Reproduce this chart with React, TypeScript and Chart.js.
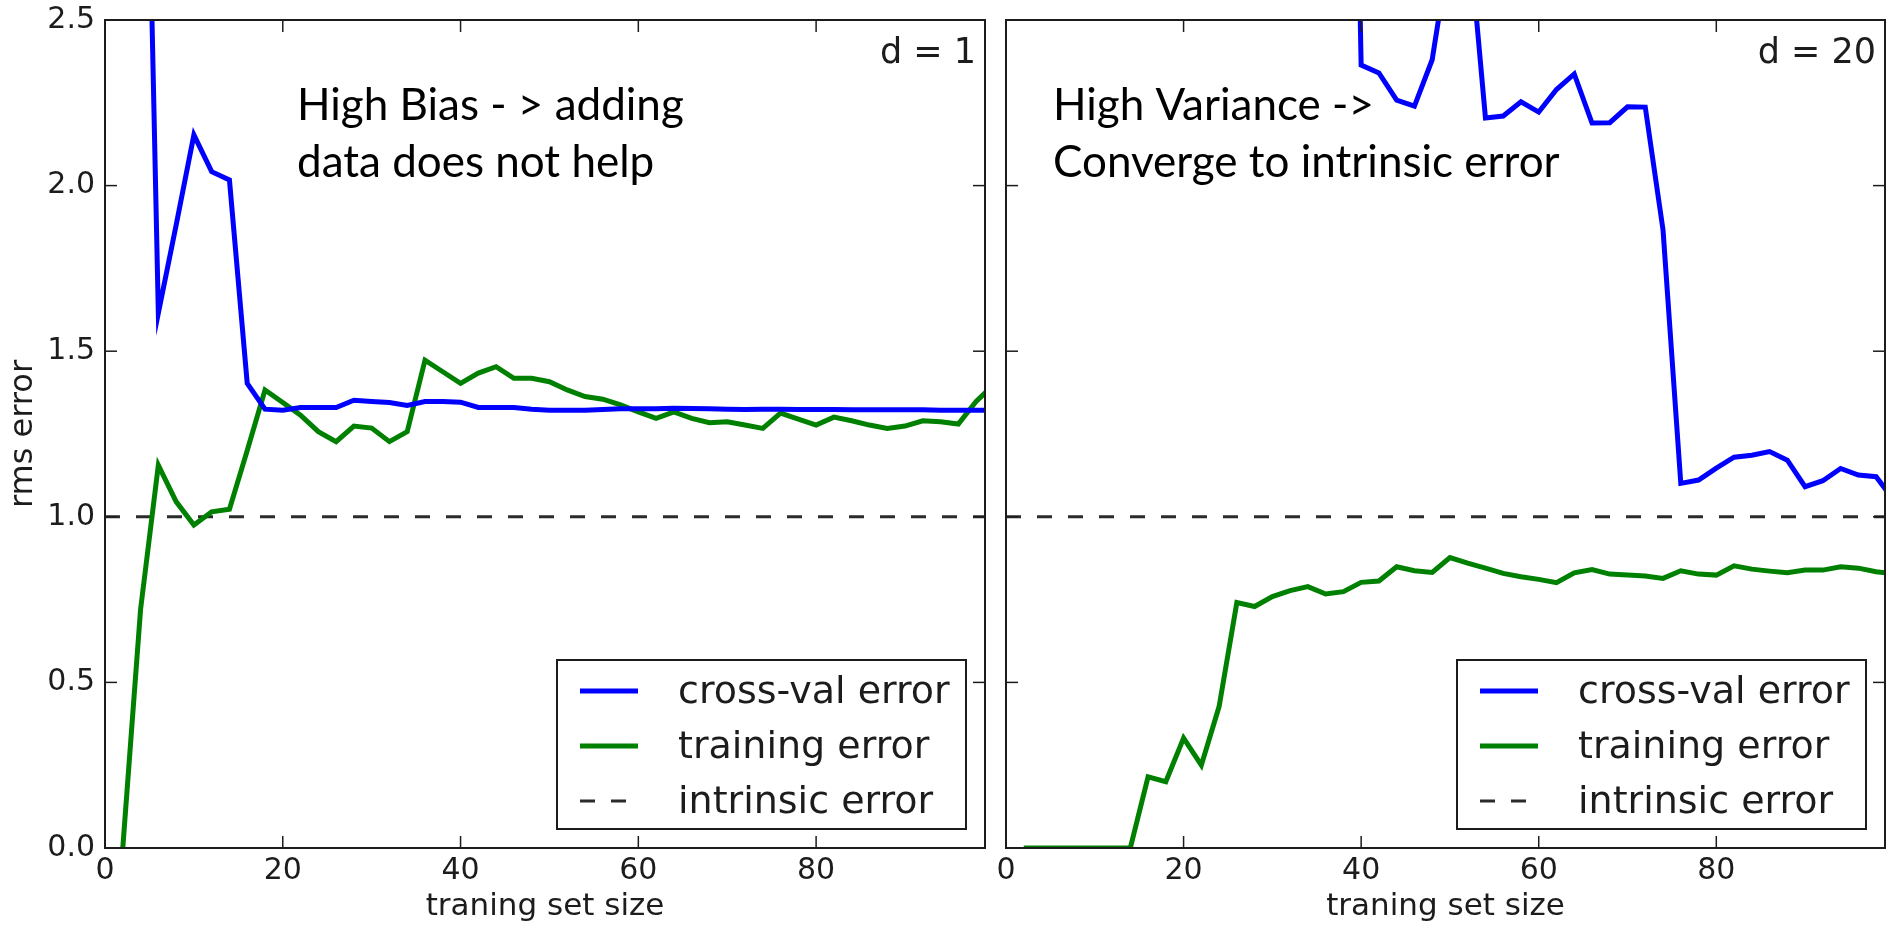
import React, { useEffect, useRef } from 'react';
import { Chart, registerables } from 'chart.js';

Chart.register(...registerables);

// ---------------- data ----------------
const trainSizes = [
  2, 4, 6, 8, 10, 12, 14, 16, 18, 20, 22, 24, 26, 28, 30, 32, 34, 36, 38, 40,
  42, 44, 46, 48, 50, 52, 54, 56, 58, 60, 62, 64, 66, 68, 70, 72, 74, 76, 78, 80,
  82, 84, 86, 88, 90, 92, 94, 96, 98, 100,
];

// d = 1 (high bias)
const d1CrossVal = [
  5.5, 4.1, 1.615, 1.88, 2.153, 2.042, 2.017, 1.403, 1.325, 1.322,
  1.33, 1.33, 1.33, 1.352, 1.348, 1.345, 1.336, 1.348, 1.348, 1.346,
  1.33, 1.33, 1.33, 1.325, 1.322, 1.322, 1.322, 1.324, 1.326, 1.326,
  1.326, 1.328, 1.327, 1.326, 1.325, 1.324, 1.325, 1.325, 1.324, 1.324,
  1.324, 1.323, 1.323, 1.323, 1.323, 1.323, 1.322, 1.322, 1.322, 1.322,
];
const d1Training = [
  0.0, 0.72, 1.156, 1.046, 0.975, 1.015, 1.023, 1.2, 1.383, 1.345,
  1.307, 1.257, 1.227, 1.274, 1.268, 1.227, 1.257, 1.473, 1.438, 1.403,
  1.434, 1.453, 1.418, 1.418, 1.408, 1.383, 1.363, 1.355, 1.338, 1.317,
  1.297, 1.317, 1.297, 1.284, 1.287, 1.277, 1.267, 1.313, 1.295, 1.277,
  1.301, 1.29, 1.277, 1.267, 1.274, 1.29, 1.287, 1.28, 1.348, 1.4,
];

// d = 20 (high variance)
const d20CrossVal = [
  9.5, 8.8, 8.2, 7.7, 7.3, 6.9, 6.6, 6.3, 6.1, 5.9,
  5.7, 5.6, 5.5, 5.4, 5.3, 5.25, 5.2, 5.15, 5.08, 2.364,
  2.34, 2.258, 2.24, 2.38, 2.72, 2.8, 2.204, 2.21, 2.253, 2.222,
  2.29, 2.337, 2.189, 2.19, 2.238, 2.237, 1.866, 1.101, 1.111, 1.147,
  1.18, 1.186, 1.197, 1.171, 1.091, 1.109, 1.146, 1.126, 1.121, 1.05,
];
const d20Training = [
  0.0, 0.0, 0.0, 0.0, 0.0, 0.0, 0.0, 0.215, 0.2, 0.332,
  0.25, 0.427, 0.741, 0.729, 0.759, 0.777, 0.789, 0.767, 0.774, 0.802,
  0.806, 0.849, 0.837, 0.832, 0.877, 0.86, 0.845, 0.829, 0.819, 0.811,
  0.801, 0.831, 0.841, 0.827, 0.824, 0.821, 0.814, 0.837, 0.827, 0.824,
  0.852, 0.842, 0.836, 0.831, 0.839, 0.839, 0.849, 0.845, 0.834, 0.828,
];

const intrinsicError = 1.0;
const xRange = [0, 99];
const yRange = [0, 2.5];
const xTickValues = [0, 20, 40, 60, 80];
const yTickValues = [0, 0.5, 1.0, 1.5, 2.0, 2.5];
const seriesLabels = ['cross-val error', 'training error', 'intrinsic error'];
const panelTags = ['d = 1', 'd = 20'];
const panelNotes = [
  ['High Bias - > adding', 'data does not help'],
  ['High Variance ->', 'Converge to intrinsic error'],
];
const xAxisTitle = 'traning set size';
const yAxisTitle = 'rms error';

// ---------------- styling ----------------
const W = 1887;
const H = 927;
const MPL_FONT = '"DejaVu Sans", "Bitstream Vera Sans", sans-serif';
const NOTE_FONT = 'Lato, "Open Sans", sans-serif';
const INK = '#1c1c1c';

const mplPlugin = {
  id: 'mplDecor',
  afterDraw(chart: any, _args: any, opts: any) {
    const { ctx, chartArea } = chart;
    const { left, right, top, bottom } = chartArea;
    const xs = chart.scales.x;
    const ys = chart.scales.y;
    ctx.save();
    // inward ticks on all four sides
    ctx.strokeStyle = INK;
    ctx.lineWidth = 1.5;
    ctx.setLineDash([]);
    const seg = (x1: number, y1: number, x2: number, y2: number) => {
      ctx.beginPath();
      ctx.moveTo(x1, y1);
      ctx.lineTo(x2, y2);
      ctx.stroke();
    };
    const tl = 12;
    for (const t of xs.ticks) {
      const px = xs.getPixelForValue(t.value);
      seg(px, bottom, px, bottom - tl);
      seg(px, top, px, top + tl);
    }
    for (const t of ys.ticks) {
      const py = ys.getPixelForValue(t.value);
      seg(left, py, left + tl, py);
      seg(right, py, right - tl, py);
    }
    // frame
    ctx.lineWidth = 2;
    ctx.strokeRect(left, top, right - left, bottom - top);

    // panel tag (top right)
    ctx.fillStyle = INK;
    ctx.font = `35px ${MPL_FONT}`;
    ctx.textAlign = 'right';
    ctx.textBaseline = 'alphabetic';
    ctx.fillText(opts.tag, right - 9, top + 43);

    // annotation
    ctx.fillStyle = '#000';
    ctx.font = `44px ${NOTE_FONT}`;
    ctx.textAlign = 'left';
    opts.notes.forEach((line: string, i: number) => {
      ctx.fillText(line, left + opts.noteDx, top + 100 + i * 57);
    });

    // legend
    const boxW = 409;
    const boxH = 169;
    const bx = right - 19 - boxW;
    const by = bottom - 19 - boxH;
    ctx.fillStyle = '#fff';
    ctx.fillRect(bx, by, boxW, boxH);
    ctx.lineWidth = 2;
    ctx.strokeStyle = INK;
    ctx.strokeRect(bx, by, boxW, boxH);
    chart.data.datasets.forEach((ds: any, i: number) => {
      const cy = by + 31 + i * 55;
      ctx.beginPath();
      ctx.setLineDash(ds.borderDash || []);
      ctx.strokeStyle = ds.borderColor;
      ctx.lineWidth = ds.borderWidth;
      ctx.moveTo(bx + 23, cy);
      ctx.lineTo(bx + 81, cy);
      ctx.stroke();
      ctx.setLineDash([]);
      ctx.fillStyle = INK;
      ctx.font = `38px ${MPL_FONT}`;
      ctx.textAlign = 'left';
      ctx.textBaseline = 'middle';
      ctx.fillText(ds.label, bx + 121, cy + 2);
    });
    ctx.restore();
  },
};

function toPoints(values: number[]) {
  return trainSizes.map((x, i) => ({ x, y: values[i] }));
}

function zeroPadding(s: any) {
  s.paddingTop = 0;
  s.paddingBottom = 0;
  s.paddingLeft = 0;
  s.paddingRight = 0;
}

function makeConfig(panel: number): any {
  const cross = panel === 0 ? d1CrossVal : d20CrossVal;
  const train = panel === 0 ? d1Training : d20Training;
  const isLeft = panel === 0;
  return {
    type: 'line',
    data: {
      datasets: [
        {
          label: seriesLabels[0],
          data: toPoints(cross),
          borderColor: '#0000ff',
          borderWidth: 5,
          pointRadius: 0,
          tension: 0,
          fill: false,
          borderJoinStyle: 'miter',
        },
        {
          label: seriesLabels[1],
          data: toPoints(train),
          borderColor: '#008000',
          borderWidth: 5,
          pointRadius: 0,
          tension: 0,
          fill: false,
          borderJoinStyle: 'miter',
        },
        {
          label: seriesLabels[2],
          data: [
            { x: xRange[0], y: intrinsicError },
            { x: xRange[1], y: intrinsicError },
          ],
          borderColor: '#2b2b2b',
          borderWidth: 3,
          borderDash: [15, 16],
          pointRadius: 0,
          fill: false,
        },
      ],
    },
    options: {
      responsive: false,
      animation: false,
      events: [],
      layout: {
        padding: isLeft
          ? { left: 0, top: 20, right: W - 985, bottom: 0 }
          : { left: 966, top: 20, right: W - 1885, bottom: 0 },
      },
      plugins: {
        legend: { display: false },
        tooltip: { enabled: false },
        mplDecor: {
          tag: panelTags[panel],
          notes: panelNotes[panel],
          noteDx: isLeft ? 192 : 47,
        },
      },
      scales: {
        x: {
          type: 'linear',
          min: xRange[0],
          max: xRange[1],
          afterBuildTicks: (s: any) => {
            s.ticks = xTickValues.map((v) => ({ value: v }));
          },
          afterFit: (s: any) => {
            s.height = 79;
            zeroPadding(s);
          },
          grid: { display: false, drawTicks: false },
          border: { display: false },
          ticks: {
            autoSkip: false,
            maxRotation: 0,
            padding: 5,
            color: INK,
            font: { family: MPL_FONT, size: 30 },
            callback: (v: any) => String(v),
          },
          title: {
            display: true,
            text: xAxisTitle,
            color: INK,
            font: { family: MPL_FONT, size: 31 },
            padding: { top: 0, bottom: 1 },
          },
        },
        y: {
          type: 'linear',
          min: yRange[0],
          max: yRange[1],
          afterBuildTicks: (s: any) => {
            s.ticks = yTickValues.map((v) => ({ value: v }));
          },
          afterFit: (s: any) => {
            s.width = isLeft ? 105 : 40;
            zeroPadding(s);
          },
          grid: { display: false, drawTicks: false },
          border: { display: false },
          ticks: {
            display: isLeft,
            padding: 10,
            color: INK,
            font: { family: MPL_FONT, size: 30 },
            callback: (v: any) => Number(v).toFixed(1),
          },
          title: {
            display: isLeft,
            text: yAxisTitle,
            color: INK,
            font: { family: MPL_FONT, size: 32 },
            padding: { top: 4, bottom: 0 },
          },
        },
      },
    },
    plugins: [mplPlugin],
  };
}

function Panel({ panel }: { panel: number }) {
  const ref = useRef<HTMLCanvasElement | null>(null);
  useEffect(() => {
    if (!ref.current) return;
    const chart = new Chart(ref.current, makeConfig(panel));
    return () => chart.destroy();
  }, [panel]);
  return (
    <canvas
      ref={ref}
      width={W}
      height={H}
      style={{ position: 'absolute', left: 0, top: 0, width: W, height: H }}
    />
  );
}

export default function App() {
  useEffect(() => {
    document.body.style.margin = '0';
    document.body.style.overflow = 'hidden';
    document.body.style.background = '#fff';
  }, []);
  return (
    <div style={{ position: 'absolute', left: 0, top: 0, width: W, height: H, background: '#fff' }}>
      <Panel panel={0} />
      <Panel panel={1} />
    </div>
  );
}
